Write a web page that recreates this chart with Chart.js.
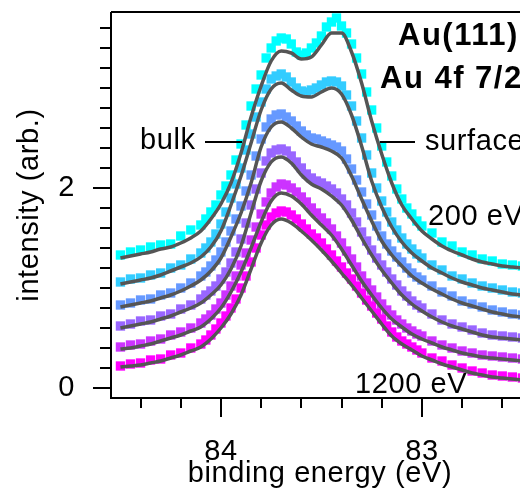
<!DOCTYPE html>
<html>
<head>
<meta charset="utf-8">
<script src="https://cdn.jsdelivr.net/npm/chart.js@4"></script>
<style>
  html, body { margin: 0; padding: 0; background: #fff; overflow: hidden; }
  #wrap { width: 520px; height: 494px; overflow: hidden; }
</style>
</head>
<body>
<div id="wrap"><canvas id="xps" width="540" height="494"></canvas></div>
<script>
// binding energies (eV) of the measured points: denser across the peak
const dataEnergy = [84.50, 84.45, 84.40, 84.35, 84.30, 84.25, 84.20, 84.15,
    84.100, 84.075, 84.050, 84.025, 84.000, 83.975, 83.950, 83.925, 83.900, 83.875,
    83.850, 83.825, 83.800, 83.775, 83.750, 83.725, 83.700, 83.675, 83.650, 83.625,
    83.600, 83.575, 83.550, 83.525, 83.500, 83.475, 83.450, 83.425, 83.400, 83.375,
    83.350, 83.325, 83.300, 83.275, 83.250, 83.225, 83.200, 83.175, 83.150, 83.125,
    83.100, 83.075, 83.050, 83.025, 83.000,
    82.95, 82.90, 82.85, 82.80, 82.75, 82.70, 82.65, 82.60, 82.55, 82.50];

// binding energies (eV) of the fitted curves
const fitEnergy = [84.50, 84.45, 84.40, 84.35, 84.30, 84.25, 84.20, 84.15, 84.10, 84.05,
                   84.00, 83.95, 83.90, 83.85, 83.80, 83.75, 83.70, 83.65, 83.60, 83.55,
                   83.50, 83.45, 83.40, 83.35, 83.30, 83.25, 83.20, 83.15, 83.10, 83.05,
                   83.00, 82.95, 82.90, 82.85, 82.80, 82.75, 82.70, 82.65, 82.60, 82.55, 82.50];

const photonEnergies = ['200 eV', '400 eV', '600 eV', '800 eV', '1000 eV', '1200 eV'];
const colors = ['#00ffff', '#33ccff', '#6699ff', '#9966ff', '#cc33ff', '#ff00ff'];

// measured points
const data200  = [1.33, 1.36, 1.38, 1.41, 1.43, 1.44, 1.52, 1.58,
    1.63, 1.69, 1.76, 1.83, 1.93, 2.02, 2.13, 2.28, 2.44, 2.63, 2.82, 2.99, 3.13, 3.30, 3.40, 3.47, 3.50,
    3.49, 3.44, 3.36, 3.33, 3.35, 3.40, 3.45, 3.52, 3.61, 3.66, 3.70, 3.62, 3.55, 3.44, 3.30, 3.14, 2.96,
    2.78, 2.60, 2.42, 2.26, 2.12, 1.99, 1.89, 1.80, 1.74, 1.67, 1.62,
    1.55, 1.46, 1.42, 1.36, 1.33, 1.29, 1.27, 1.24, 1.23, 1.22];
const data400  = [1.06, 1.09, 1.10, 1.13, 1.15, 1.20, 1.23, 1.29,
    1.35, 1.40, 1.46, 1.54, 1.64, 1.76, 1.90, 2.04, 2.20, 2.38, 2.54, 2.71, 2.86, 2.99, 3.09, 3.12, 3.14,
    3.11, 3.06, 3.00, 2.97, 2.96, 2.98, 3.00, 3.03, 3.06, 3.07, 3.06, 3.02, 2.93, 2.82, 2.67, 2.50, 2.33,
    2.15, 2.00, 1.87, 1.76, 1.66, 1.58, 1.50, 1.44, 1.39, 1.34, 1.30,
    1.23, 1.18, 1.12, 1.09, 1.05, 1.02, 1.00, 0.98, 0.96, 0.95];
const data600  = [0.83, 0.85, 0.88, 0.89, 0.93, 0.95, 1.00, 1.05,
    1.12, 1.16, 1.22, 1.28, 1.36, 1.46, 1.57, 1.69, 1.82, 1.97, 2.13, 2.32, 2.49, 2.61, 2.69, 2.73, 2.74,
    2.71, 2.67, 2.62, 2.57, 2.53, 2.50, 2.49, 2.47, 2.45, 2.43, 2.41, 2.37, 2.29, 2.19, 2.08, 1.96, 1.84,
    1.73, 1.62, 1.52, 1.44, 1.37, 1.31, 1.26, 1.20, 1.15, 1.11, 1.08,
    1.02, 0.96, 0.92, 0.87, 0.84, 0.81, 0.78, 0.76, 0.74, 0.73];
const data800  = [0.62, 0.64, 0.67, 0.68, 0.72, 0.74, 0.79, 0.83,
    0.89, 0.93, 0.97, 1.02, 1.09, 1.16, 1.25, 1.36, 1.49, 1.65, 1.83, 1.99, 2.15, 2.27, 2.35, 2.38, 2.39,
    2.37, 2.32, 2.26, 2.20, 2.14, 2.10, 2.07, 2.05, 2.02, 1.99, 1.95, 1.89, 1.83, 1.75, 1.66, 1.56, 1.47,
    1.38, 1.30, 1.23, 1.16, 1.09, 1.03, 0.97, 0.92, 0.87, 0.83, 0.80,
    0.74, 0.68, 0.64, 0.61, 0.58, 0.55, 0.53, 0.52, 0.51, 0.50];
const data1000 = [0.41, 0.43, 0.44, 0.47, 0.49, 0.53, 0.56, 0.60,
    0.65, 0.69, 0.73, 0.79, 0.85, 0.93, 1.02, 1.12, 1.23, 1.35, 1.48, 1.61, 1.74, 1.86, 1.95, 2.01, 2.04,
    2.03, 2.00, 1.96, 1.91, 1.86, 1.80, 1.75, 1.70, 1.65, 1.59, 1.52, 1.45, 1.37, 1.29, 1.21, 1.12, 1.05,
    0.98, 0.91, 0.84, 0.78, 0.73, 0.68, 0.64, 0.60, 0.57, 0.54, 0.52,
    0.47, 0.43, 0.40, 0.37, 0.35, 0.33, 0.32, 0.31, 0.30, 0.29];
const data1200 = [0.22, 0.24, 0.25, 0.28, 0.29, 0.33, 0.35, 0.40,
    0.44, 0.48, 0.53, 0.59, 0.65, 0.72, 0.80, 0.89, 1.00, 1.12, 1.26, 1.40, 1.53, 1.63, 1.71, 1.75, 1.77,
    1.76, 1.73, 1.69, 1.64, 1.59, 1.54, 1.50, 1.45, 1.39, 1.33, 1.27, 1.21, 1.15, 1.09, 1.02, 0.95, 0.88,
    0.82, 0.75, 0.69, 0.62, 0.56, 0.51, 0.47, 0.44, 0.41, 0.38, 0.35,
    0.30, 0.27, 0.23, 0.20, 0.17, 0.15, 0.13, 0.12, 0.11, 0.10];

// fitted curves
const fit200  = [1.30, 1.32, 1.34, 1.36, 1.39, 1.41, 1.45, 1.50, 1.57, 1.69, 1.84, 2.05, 2.35, 2.71, 3.02, 3.27, 3.37, 3.35, 3.29, 3.31, 3.43, 3.55, 3.55, 3.36, 3.05, 2.67, 2.34, 2.05, 1.83, 1.69, 1.57, 1.49, 1.42, 1.37, 1.33, 1.29, 1.26, 1.24, 1.22, 1.21, 1.20];
const fit400  = [1.04, 1.06, 1.08, 1.10, 1.13, 1.17, 1.21, 1.25, 1.31, 1.41, 1.57, 1.83, 2.12, 2.45, 2.78, 2.99, 3.05, 2.98, 2.92, 2.91, 2.96, 3.00, 2.94, 2.73, 2.42, 2.07, 1.81, 1.61, 1.46, 1.35, 1.27, 1.20, 1.15, 1.10, 1.06, 1.03, 1.00, 0.98, 0.96, 0.94, 0.93];
const fit600  = [0.81, 0.83, 0.85, 0.87, 0.90, 0.93, 0.97, 1.02, 1.08, 1.17, 1.30, 1.51, 1.75, 2.05, 2.41, 2.61, 2.66, 2.60, 2.51, 2.44, 2.41, 2.37, 2.30, 2.12, 1.89, 1.67, 1.47, 1.33, 1.22, 1.12, 1.05, 0.99, 0.94, 0.89, 0.85, 0.82, 0.79, 0.76, 0.74, 0.72, 0.71];
const fit800  = [0.60, 0.62, 0.64, 0.66, 0.69, 0.72, 0.76, 0.80, 0.85, 0.93, 1.03, 1.19, 1.42, 1.75, 2.07, 2.26, 2.31, 2.25, 2.13, 2.04, 1.99, 1.92, 1.83, 1.68, 1.50, 1.33, 1.18, 1.05, 0.93, 0.84, 0.77, 0.71, 0.66, 0.62, 0.59, 0.56, 0.53, 0.51, 0.50, 0.49, 0.48];
const fit1000 = [0.39, 0.40, 0.42, 0.44, 0.47, 0.50, 0.53, 0.57, 0.61, 0.69, 0.80, 0.96, 1.16, 1.40, 1.66, 1.87, 1.95, 1.92, 1.84, 1.73, 1.63, 1.53, 1.39, 1.23, 1.07, 0.93, 0.80, 0.69, 0.61, 0.54, 0.49, 0.45, 0.41, 0.38, 0.35, 0.33, 0.31, 0.30, 0.29, 0.28, 0.27];
const fit1200 = [0.21, 0.22, 0.23, 0.25, 0.27, 0.30, 0.33, 0.37, 0.41, 0.49, 0.60, 0.74, 0.93, 1.19, 1.45, 1.63, 1.69, 1.65, 1.57, 1.48, 1.38, 1.27, 1.15, 1.03, 0.90, 0.77, 0.64, 0.52, 0.44, 0.38, 0.32, 0.28, 0.24, 0.21, 0.18, 0.15, 0.13, 0.11, 0.10, 0.09, 0.08];

const measured = [data200, data400, data600, data800, data1000, data1200];
const fits = [fit200, fit400, fit600, fit800, fit1000, fit1200];

const xyOf = (xs, vals) => vals.map((v, i) => ({x: xs[i], y: v}));

const datasets = [];
fits.forEach((f, i) => {
    datasets.push({
        type: 'line',
        label: photonEnergies[i] + ' fit',
        data: xyOf(fitEnergy, f),
        borderColor: '#555555',
        borderWidth: 3.5,
        pointRadius: 0,
        cubicInterpolationMode: 'monotone',
        fill: false,
        order: 0
    });
});
measured.forEach((d, i) => {
    datasets.push({
        type: 'scatter',
        label: photonEnergies[i],
        data: xyOf(dataEnergy, d),
        backgroundColor: colors[i],
        borderWidth: 0,
        pointStyle: 'rect',
        pointRadius: 6.6,
        order: 10 - i
    });
});

const font = 'Liberation Sans, Arial, Helvetica, sans-serif';

const frame = {
    id: 'frame',
    beforeDraw(chart) {
        chart.ctx.letterSpacing = '0.6px';
    },
    afterDraw(chart) {
        const {ctx, chartArea: a, scales: {x, y}} = chart;
        ctx.save();
        ctx.strokeStyle = '#000';
        ctx.lineWidth = 2;
        ctx.beginPath();
        ctx.moveTo(a.left, a.top);
        ctx.lineTo(a.right + 20, a.top);
        ctx.moveTo(a.left, a.top);
        ctx.lineTo(a.left, a.bottom);
        ctx.lineTo(a.right + 20, a.bottom);
        // y ticks every 0.2, long ones at 0 and 2
        for (let i = 0; i <= 18; i++) {
            const py = Math.round(y.getPixelForValue(i * 0.2));
            const len = i % 10 === 0 ? 18 : 11;
            ctx.moveTo(a.left, py);
            ctx.lineTo(a.left - len, py);
        }
        // x ticks every 0.2 eV, long ones at whole eV
        for (let k = -2; k <= 9; k++) {
            const e = 84 - k * 0.2;
            if (e > x.max || e < x.min) continue;
            const px = Math.round(x.getPixelForValue(e));
            const len = k % 5 === 0 ? 19 : 10;
            ctx.moveTo(px, a.bottom);
            ctx.lineTo(px, a.bottom + len);
        }
        // leader lines for the two components
        ctx.moveTo(205, 142); ctx.lineTo(242, 142);
        ctx.moveTo(380, 142); ctx.lineTo(415, 142);
        ctx.stroke();

        ctx.fillStyle = '#000';
        ctx.textBaseline = 'alphabetic';
        ctx.textAlign = 'left';
        ctx.font = '29px ' + font;
        ctx.fillText('bulk', 140, 149);
        ctx.fillText('surface', 425, 150);
        ctx.fillText('200 eV', 428, 225);
        ctx.fillText('1200 eV', 355, 393);
        ctx.letterSpacing = '1.5px';
        ctx.font = 'bold 31px ' + font;
        ctx.fillText('Au(111)', 398, 45);
        ctx.fillText('Au 4f 7/2', 380, 88);
        ctx.restore();
    }
};

new Chart(document.getElementById('xps'), {
    type: 'scatter',
    data: { datasets: datasets },
    options: {
        responsive: false,
        animation: false,
        devicePixelRatio: 1,
        layout: { padding: { top: 12, right: 11, left: 0, bottom: 0 } },
        plugins: {
            legend: { display: false },
            tooltip: { enabled: false }
        },
        scales: {
            x: {
                type: 'linear',
                reverse: true,
                min: 82.467,
                max: 84.547,
                grid: { display: false },
                border: { display: false },
                ticks: {
                    stepSize: 1,
                    includeBounds: false,
                    color: '#000',
                    padding: 29,
                    font: { family: font, size: 29 },
                    maxRotation: 0
                },
                title: {
                    display: true,
                    text: 'binding energy (eV)',
                    color: '#000',
                    font: { family: font, size: 29 },
                    padding: { top: 0, bottom: 3 }
                },
                afterFit(scale) {
                    scale.height = 96;
                    scale.paddingLeft = 0;
                    scale.paddingRight = 0;
                }
            },
            y: {
                type: 'linear',
                min: -0.1,
                max: 3.76,
                grid: { display: false },
                border: { display: false },
                ticks: {
                    stepSize: 2,
                    includeBounds: false,
                    color: '#000',
                    padding: 28,
                    font: { family: font, size: 29 },
                    callback: v => (v === 0 || v === 2) ? String(v) : ''
                },
                title: {
                    display: true,
                    text: 'intensity (arb.)',
                    color: '#000',
                    font: { family: font, size: 29 },
                    padding: { top: 13, bottom: 0 }
                },
                afterFit(scale) {
                    scale.width = 111;
                    scale.paddingTop = 0;
                    scale.paddingBottom = 0;
                }
            }
        }
    },
    plugins: [frame]
});
</script>
</body>
</html>
